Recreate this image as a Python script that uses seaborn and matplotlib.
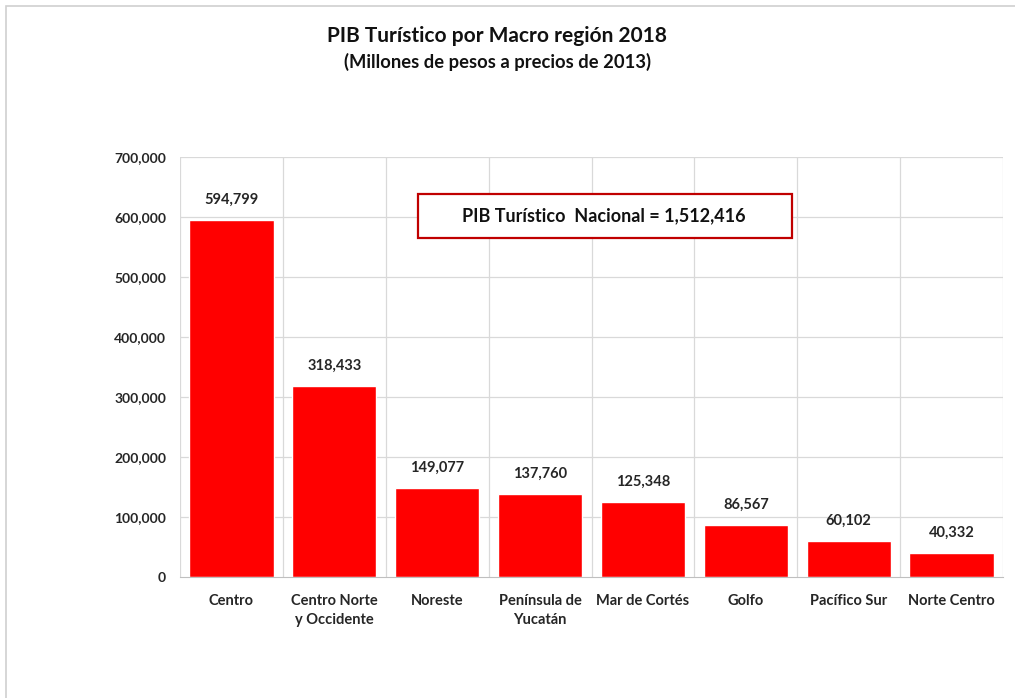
import matplotlib
matplotlib.use("Agg")
import matplotlib.pyplot as plt
import seaborn as sns
import pandas as pd
from matplotlib.patches import Rectangle
from matplotlib.ticker import FuncFormatter, MultipleLocator

regiones = ["Centro", "Centro Norte\ny Occidente", "Noreste", "Península de\nYucatán",
            "Mar de Cortés", "Golfo", "Pacífico Sur", "Norte Centro"]
pib = [594799, 318433, 149077, 137760, 125348, 86567, 60102, 40332]
total_nacional = "1,512,416"

sns.set_style("white")
plt.rcParams["font.family"] = ["Lato", "DejaVu Sans"]

df = pd.DataFrame({"region": regiones, "pib": pib})

fig = plt.figure(figsize=(10.15, 6.98), dpi=100)
# marco gris del gráfico
fig.patches.append(Rectangle((6 / 1015, -0.1), 1.2, (698 - 6) / 698 + 0.1,
                             transform=fig.transFigure, fill=False,
                             edgecolor="#d0d0d0", lw=1.2))

ax = fig.add_axes([180 / 1015, 1 - 577 / 698, 823 / 1015, 420 / 698])
sns.barplot(data=df, x="region", y="pib", color="#ff0000", saturation=1,
            width=0.82, ax=ax)

ax.set_ylim(0, 700000)
ax.set_xlim(-0.5, len(regiones) - 0.5)
ax.yaxis.set_major_locator(MultipleLocator(100000))
ax.yaxis.set_major_formatter(FuncFormatter(lambda v, p: f"{int(v):,}"))
ax.set_xlabel("")
ax.set_ylabel("")

# cuadrícula
for y in range(100000, 700001, 100000):
    ax.axhline(y, color="#d9d9d9", lw=0.9, zorder=0)
for i in range(len(regiones) + 1):
    ax.axvline(i - 0.5, color="#d9d9d9", lw=0.9, zorder=0)
for s in ["top", "right", "left"]:
    ax.spines[s].set_visible(False)
ax.spines["bottom"].set_color("#bfbfbf")

ax.tick_params(axis="y", length=0, pad=10, labelsize=10)
ax.tick_params(axis="x", length=0, pad=12, labelsize=10.5)
for lab in ax.get_yticklabels() + ax.get_xticklabels():
    lab.set_fontweight("bold")
    lab.set_color("#262626")
for lab in ax.get_xticklabels():
    lab.set_linespacing(1.45)

# etiquetas de valores
for i, v in enumerate(pib):
    ax.text(i, v + 22000, f"{v:,}", ha="center", va="bottom",
            fontsize=10.5, fontweight="bold", color="#262626")

# recuadro del total
fig.patches.append(Rectangle((418 / 1015, 1 - 238 / 698), 374 / 1015, 44 / 698,
                             transform=fig.transFigure, fill=True,
                             facecolor="white", edgecolor="#c00000", lw=1.6))
fig.text(604 / 1015, 1 - 216 / 698, f"PIB Turístico  Nacional = {total_nacional}",
         ha="center", va="center", fontsize=13, fontweight="bold", color="#111111")

fig.text(497 / 1015, 1 - 36 / 698, "PIB Turístico por Macro región 2018",
         ha="center", va="center", fontsize=15, fontweight="bold", color="#111111")
fig.text(497 / 1015, 1 - 62 / 698, "(Millones de pesos a precios de 2013)",
         ha="center", va="center", fontsize=13.2, fontweight="bold", color="#111111")

fig.savefig("out.png", dpi=100)
